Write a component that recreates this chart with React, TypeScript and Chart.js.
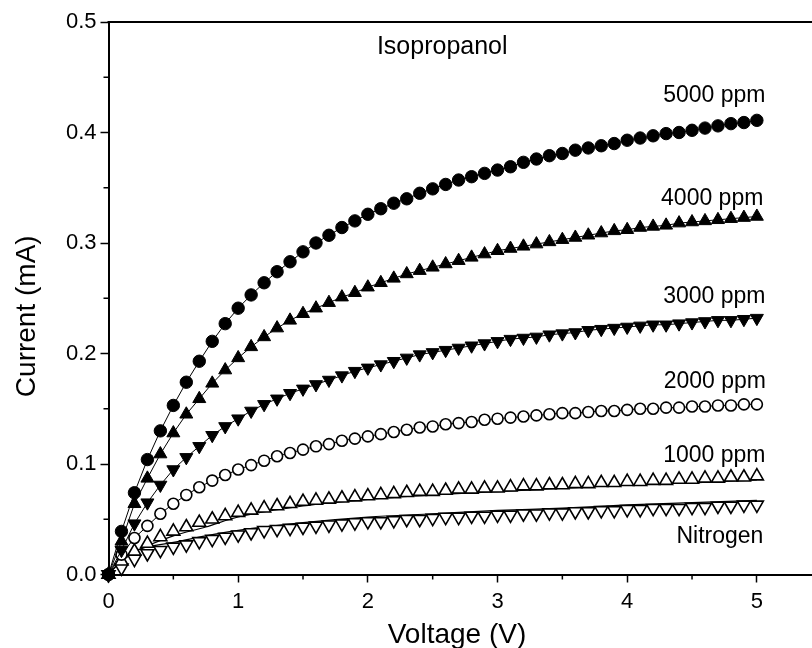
import React, { useEffect, useRef } from 'react';
import { Chart, registerables } from 'chart.js';

Chart.register(...registerables);

const voltage = [
  0, 0.1, 0.2, 0.3, 0.4, 0.5, 0.6, 0.7, 0.8, 0.9,
  1.0, 1.1, 1.2, 1.3, 1.4, 1.5, 1.6, 1.7, 1.8, 1.9,
  2.0, 2.1, 2.2, 2.3, 2.4, 2.5, 2.6, 2.7, 2.8, 2.9,
  3.0, 3.1, 3.2, 3.3, 3.4, 3.5, 3.6, 3.7, 3.8, 3.9,
  4.0, 4.1, 4.2, 4.3, 4.4, 4.5, 4.6, 4.7, 4.8, 4.9, 5.0,
];

const ppm5000 = [
  0, 0.039, 0.074, 0.104, 0.130, 0.153, 0.174, 0.193, 0.211, 0.227,
  0.241, 0.253, 0.264, 0.274, 0.283, 0.292, 0.300, 0.307, 0.314, 0.320,
  0.326, 0.331, 0.336, 0.340, 0.345, 0.349, 0.353, 0.357, 0.360, 0.363,
  0.366, 0.369, 0.373, 0.376, 0.379, 0.381, 0.384, 0.386, 0.388, 0.390,
  0.393, 0.395, 0.397, 0.399, 0.400, 0.402, 0.404, 0.406, 0.408, 0.409, 0.411,
];

const ppm4000 = [
  0, 0.030, 0.064, 0.087, 0.109, 0.128, 0.145, 0.159, 0.173, 0.185,
  0.196, 0.206, 0.215, 0.223, 0.230, 0.236, 0.241, 0.246, 0.251, 0.255,
  0.260, 0.264, 0.268, 0.272, 0.275, 0.278, 0.281, 0.284, 0.287, 0.290,
  0.293, 0.295, 0.297, 0.299, 0.301, 0.303, 0.305, 0.307, 0.309, 0.311,
  0.312, 0.314, 0.315, 0.316, 0.318, 0.319, 0.320, 0.321, 0.322, 0.323, 0.324,
];

const ppm3000 = [
  0, 0.022, 0.046, 0.065, 0.081, 0.095, 0.106, 0.116, 0.126, 0.134,
  0.141, 0.148, 0.154, 0.159, 0.164, 0.168, 0.172, 0.176, 0.180, 0.184,
  0.187, 0.190, 0.193, 0.196, 0.199, 0.201, 0.203, 0.205, 0.207, 0.209,
  0.211, 0.213, 0.214, 0.215, 0.217, 0.218, 0.219, 0.221, 0.222, 0.223,
  0.224, 0.225, 0.226, 0.226, 0.227, 0.228, 0.229, 0.230, 0.230, 0.231, 0.232,
];

const ppm2000 = [
  0, 0.018, 0.033, 0.044, 0.055, 0.064, 0.072, 0.079, 0.085, 0.090,
  0.095, 0.099, 0.103, 0.107, 0.110, 0.113, 0.116, 0.118, 0.121, 0.123,
  0.125, 0.127, 0.129, 0.131, 0.133, 0.134, 0.136, 0.137, 0.138, 0.140,
  0.141, 0.142, 0.143, 0.144, 0.145, 0.146, 0.146, 0.147, 0.148, 0.148,
  0.149, 0.150, 0.150, 0.151, 0.151, 0.152, 0.152, 0.153, 0.153, 0.154, 0.154,
];

const ppm1000 = [
  0, 0.012, 0.021, 0.028, 0.034, 0.039, 0.043, 0.047, 0.050, 0.053,
  0.056, 0.058, 0.060, 0.062, 0.064, 0.066, 0.067, 0.068, 0.069, 0.070,
  0.071, 0.072, 0.073, 0.074, 0.075, 0.075, 0.076, 0.077, 0.077, 0.078,
  0.078, 0.079, 0.080, 0.080, 0.081, 0.081, 0.082, 0.082, 0.083, 0.083,
  0.084, 0.084, 0.085, 0.085, 0.086, 0.086, 0.087, 0.087, 0.088, 0.088, 0.089,
];

const nitrogen = [
  0, 0.006, 0.014, 0.019, 0.022, 0.025, 0.027, 0.030, 0.032, 0.034,
  0.036, 0.038, 0.040, 0.041, 0.042, 0.043, 0.044, 0.045, 0.046, 0.047,
  0.048, 0.048, 0.049, 0.050, 0.050, 0.051, 0.052, 0.052, 0.053, 0.053,
  0.054, 0.054, 0.055, 0.055, 0.056, 0.056, 0.057, 0.057, 0.058, 0.058,
  0.059, 0.059, 0.060, 0.060, 0.060, 0.061, 0.061, 0.062, 0.062, 0.063, 0.063,
];

// fitted curves drawn as thin lines for the two lowest series
const fitVoltage = [0, 0.1, 0.2, 0.3, 0.5, 0.75, 1.0, 1.5, 2.0, 2.5, 3.0, 3.5, 4.0, 4.5, 5.0];
const fit1000 = [0, 0.012, 0.020, 0.026, 0.035, 0.043, 0.052, 0.062, 0.068, 0.072, 0.075, 0.078, 0.081, 0.083, 0.0855];
const fitNitrogen = [0, 0.013, 0.021, 0.025, 0.029, 0.035, 0.040, 0.047, 0.052, 0.055, 0.058, 0.060, 0.063, 0.065, 0.067];

const seriesLabels = ['5000 ppm', '4000 ppm', '3000 ppm', '2000 ppm', '1000 ppm', 'Nitrogen'];
const gasLabel = 'Isopropanol';
const xTitle = 'Voltage (V)';
const yTitle = 'Current (mA)';

const xTicks = [0, 1, 2, 3, 4, 5];
const xMinorTicks = [0.5, 1.5, 2.5, 3.5, 4.5];
const yTicks = [0, 0.1, 0.2, 0.3, 0.4, 0.5];
const yMinorTicks = [0.05, 0.15, 0.25, 0.35, 0.45];

const FONT = "'Liberation Sans', Arial, Helvetica, sans-serif";

function pts(xs: number[], ys: number[]) {
  return xs.map((x, i) => ({ x, y: ys[i] }));
}

const decorPlugin = {
  id: 'decor',
  afterDraw(chart: any) {
    const { ctx, chartArea, scales, width } = chart;
    const xs = scales.x;
    const ys = scales.y;
    ctx.save();
    ctx.strokeStyle = '#000';
    // top frame line and bottom axis running to the edge of the picture
    ctx.lineWidth = 2;
    ctx.beginPath();
    ctx.moveTo(chartArea.left - 1, chartArea.top);
    ctx.lineTo(width, chartArea.top);
    const axisY = Math.round(chartArea.bottom - 1) + 1;
    ctx.moveTo(chartArea.right - 2, axisY);
    ctx.lineTo(width, axisY);
    ctx.stroke();
    // minor ticks
    ctx.lineWidth = 1.5;
    ctx.beginPath();
    xMinorTicks.forEach((v) => {
      const px = xs.getPixelForValue(v);
      ctx.moveTo(px, chartArea.bottom);
      ctx.lineTo(px, chartArea.bottom + 5);
    });
    yMinorTicks.forEach((v) => {
      const py = ys.getPixelForValue(v);
      ctx.moveTo(chartArea.left, py);
      ctx.lineTo(chartArea.left - 5, py);
    });
    ctx.stroke();

    ctx.fillStyle = '#000';
    // axis titles
    ctx.font = `28px ${FONT}`;
    ctx.textAlign = 'center';
    ctx.textBaseline = 'middle';
    ctx.fillText(xTitle, 457, chartArea.bottom + 61);
    ctx.save();
    ctx.translate(chartArea.left - 81, (chartArea.top + chartArea.bottom) / 2 + 18);
    ctx.rotate(-Math.PI / 2);
    ctx.fillText(yTitle, 0, 0);
    ctx.restore();

    // annotations
    ctx.font = `25px ${FONT}`;
    ctx.textAlign = 'left';
    ctx.fillText(gasLabel, xs.getPixelForValue(2.07), ys.getPixelForValue(0.477));
    ctx.font = `23px ${FONT}`;
    ctx.textAlign = 'right';
    const anchors = [
      [5.066, 0.433],
      [5.05, 0.3405],
      [5.066, 0.2515],
      [5.07, 0.1745],
      [5.066, 0.108],
      [5.05, 0.034],
    ];
    seriesLabels.forEach((t, i) => {
      ctx.fillText(t, xs.getPixelForValue(anchors[i][0]), ys.getPixelForValue(anchors[i][1]));
    });
    ctx.restore();
  },
};

export default function App() {
  const ref = useRef<HTMLCanvasElement | null>(null);

  useEffect(() => {
    if (!ref.current) return;
    Chart.defaults.color = '#000';
    const filled = (style: string, r: number, rot = 0) => ({
      pointStyle: style,
      pointRadius: r,
      pointRotation: rot,
      pointBackgroundColor: '#000',
      pointBorderColor: '#000',
      pointBorderWidth: 1,
      borderColor: '#000',
      borderWidth: 1,
      showLine: true,
      tension: 0,
      clip: false as any,
    });
    const hollow = (style: string, r: number, rot = 0) => ({
      pointStyle: style,
      pointRadius: r,
      pointRotation: rot,
      pointBackgroundColor: '#fff',
      pointBorderColor: '#000',
      pointBorderWidth: 1.6,
      borderColor: '#000',
      borderWidth: 1,
      tension: 0,
      clip: false as any,
    });
    const chart = new Chart(ref.current, {
      type: 'line',
      data: {
        datasets: [
          { label: seriesLabels[0], data: pts(voltage, ppm5000), ...filled('circle', 6.2) },
          { label: seriesLabels[1], data: pts(voltage, ppm4000), ...filled('triangle', 7.5) },
          { label: seriesLabels[2], data: pts(voltage, ppm3000), ...filled('triangle', 7.5, 180) },
          { label: seriesLabels[3], data: pts(voltage, ppm2000), ...hollow('circle', 5.5), showLine: true },
          { label: seriesLabels[4], data: pts(voltage, ppm1000), ...hollow('triangle', 7.5), showLine: false },
          { label: seriesLabels[5], data: pts(voltage, nitrogen), ...hollow('triangle', 7.5, 180), showLine: false },
          {
            label: 'fit 1000', data: pts(fitVoltage, fit1000), borderColor: '#000', borderWidth: 1.2,
            pointRadius: 0, cubicInterpolationMode: 'monotone', clip: false as any,
          },
          {
            label: 'fit N2', data: pts(fitVoltage, fitNitrogen), borderColor: '#000', borderWidth: 1.2,
            pointRadius: 0, cubicInterpolationMode: 'monotone', clip: false as any,
          },
        ] as any,
      },
      options: {
        responsive: false,
        animation: false,
        devicePixelRatio: 1,
        layout: { padding: { top: 22, left: 0, right: 0, bottom: 0 } },
        plugins: { legend: { display: false }, tooltip: { enabled: false } },
        scales: {
          x: {
            type: 'linear',
            min: 0,
            max: 5.355,
            afterFit: (s: any) => { s.height = 73.5; s.paddingLeft = 0; s.paddingRight = 0; },
            afterBuildTicks: (s: any) => { s.ticks = xTicks.map((v) => ({ value: v })); },
            grid: { display: true, drawOnChartArea: false, drawTicks: true, tickLength: 8, tickWidth: 1.5, tickColor: '#000' },
            border: { display: true, color: '#000', width: 2 },
            ticks: {
              font: { family: FONT, size: 22 },
              color: '#000',
              padding: 6,
              maxRotation: 0,
              callback: (v: any) => String(v),
            },
          },
          y: {
            type: 'linear',
            min: 0,
            max: 0.5,
            afterFit: (s: any) => { s.width = 108.5; s.paddingTop = 0; s.paddingBottom = 0; },
            afterBuildTicks: (s: any) => { s.ticks = yTicks.map((v) => ({ value: v })); },
            grid: { display: true, drawOnChartArea: false, drawTicks: true, tickLength: 8, tickWidth: 1.5, tickColor: '#000' },
            border: { display: true, color: '#000', width: 2 },
            ticks: {
              font: { family: FONT, size: 22 },
              color: '#000',
              padding: 4,
              callback: (v: any) => Number(v).toFixed(1),
            },
          },
        },
      } as any,
      plugins: [decorPlugin],
    });
    return () => chart.destroy();
  }, []);

  return (
    <div style={{ position: 'fixed', left: 0, top: 0, width: 812, height: 648, background: '#fff' }}>
      <canvas ref={ref} width={812} height={648} style={{ display: 'block', width: 812, height: 648 }} />
    </div>
  );
}
